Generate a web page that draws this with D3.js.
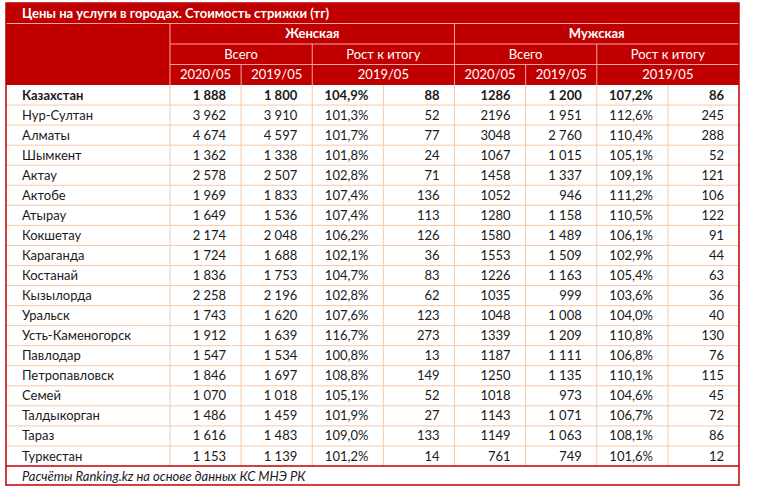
<!DOCTYPE html>
<html><head><meta charset="utf-8">
<script src="https://cdn.jsdelivr.net/npm/d3@7"></script>
<style>
html,body{margin:0;padding:0;background:#fff;}
svg{display:block;font-family:Lato,"Open Sans",sans-serif;}
</style></head>
<body>
<svg id="c" width="759" height="495"></svg>
<script>
const title = "Цены на услуги в городах. Стоимость стрижки (тг)";
const footnote = "Расчёты Ranking.kz на основе данных КС МНЭ РК";
const groups = ["Женская", "Мужская"];
const subGroups = ["Всего", "Рост к итогу"];
const periodLabels = ["2020/05", "2019/05"];
const cities = ["Казахстан","Нур-Султан","Алматы","Шымкент","Актау","Актобе","Атырау","Кокшетау","Караганда","Костанай","Кызылорда","Уральск","Усть-Каменогорск","Павлодар","Петропавловск","Семей","Талдыкорган","Тараз","Туркестан"];
const womenNow   = [1888,3962,4674,1362,2578,1969,1649,2174,1724,1836,2258,1743,1912,1547,1846,1070,1486,1616,1153];
const womenPrev  = [1800,3910,4597,1338,2507,1833,1536,2048,1688,1753,2196,1620,1639,1534,1697,1018,1459,1483,1139];
const womenPct   = [104.9,101.3,101.7,101.8,102.8,107.4,107.4,106.2,102.1,104.7,102.8,107.6,116.7,100.8,108.8,105.1,101.9,109.0,101.2];
const womenDiff  = [88,52,77,24,71,136,113,126,36,83,62,123,273,13,149,52,27,133,14];
const menNow     = [1286,2196,3048,1067,1458,1052,1280,1580,1553,1226,1035,1048,1339,1187,1250,1018,1143,1149,761];
const menPrev    = [1200,1951,2760,1015,1337,946,1158,1489,1509,1163,999,1008,1209,1111,1135,973,1071,1063,749];
const menPct     = [107.2,112.6,110.4,105.1,109.1,111.2,110.5,106.1,102.9,105.4,103.6,104.0,110.8,106.8,110.1,104.6,106.7,108.1,101.6];
const menDiff    = [86,245,288,52,121,106,122,91,44,63,36,40,130,76,115,45,72,86,12];

const loc = d3.formatLocale({decimal: ",", thousands: "\u00a0", grouping: [3], currency: ["", ""]});
const fThou = loc.format(",d");
const fPlain = d3.format("d");
const fPct = v => loc.format(".1f")(v) + "%";

const columns = [
  {key:"wn", vals: womenNow,  fmt: fThou},
  {key:"wp", vals: womenPrev, fmt: fThou},
  {key:"wr", vals: womenPct,  fmt: fPct},
  {key:"wd", vals: womenDiff, fmt: fPlain},
  {key:"mn", vals: menNow,    fmt: fPlain},
  {key:"mp", vals: menPrev,   fmt: fThou},
  {key:"mr", vals: menPct,    fmt: fPct},
  {key:"md", vals: menDiff,   fmt: fPlain}
];

const RED = "#c00000", HDRLINE = "#f3a3a3", GRID = "#f8c8a8", TXT = "#1a1a1a";
const L = 6, R = 739, firstColR = 170;
const svg = d3.select("#c");

const x = d3.scaleBand().domain(columns.map(c => c.key)).range([firstColR, R]);
const y = d3.scaleBand().domain(cities).range([85, 466]);
const hdr = d3.scaleBand().domain(["title","g","s","p"]).range([3, 85]);
const cw = x.bandwidth();

svg.append("rect").attr("x", L).attr("y", 3).attr("width", R - L).attr("height", 82).attr("fill", RED);

const hl = svg.append("g").attr("stroke", HDRLINE).attr("stroke-width", 1);
const yG = hdr("g"), yS = hdr("s"), yP = hdr("p"), hb = hdr.bandwidth();
hl.append("line").attr("x1", L).attr("x2", R).attr("y1", yG).attr("y2", yG);
hl.append("line").attr("x1", firstColR).attr("x2", R).attr("y1", yS).attr("y2", yS);
hl.append("line").attr("x1", firstColR).attr("x2", R).attr("y1", yP).attr("y2", yP);
hl.append("line").attr("x1", firstColR).attr("x2", firstColR).attr("y1", yG).attr("y2", 85);
hl.append("line").attr("x1", x("mn")).attr("x2", x("mn")).attr("y1", yG).attr("y2", 85);
["wr","mr"].forEach(k => hl.append("line").attr("x1", x(k)).attr("x2", x(k)).attr("y1", yS).attr("y2", 85));
["wp","mp"].forEach(k => hl.append("line").attr("x1", x(k)).attr("x2", x(k)).attr("y1", yP).attr("y2", 85));

const ht = svg.append("g").attr("fill", "#fff").attr("font-size", 13);
ht.append("text").attr("x", 22).attr("y", yG - hb/2 + 0.5).attr("dy", "0.35em")
  .attr("font-weight", 700).text(title);
groups.forEach((g, i) => {
  const x0 = x(columns[i*4].key), x1 = x(columns[i*4+3].key) + cw;
  ht.append("text").attr("x", (x0 + x1)/2).attr("y", yG + hb/2).attr("dy", "0.35em")
    .attr("text-anchor", "middle").attr("font-weight", 700).text(g);
  subGroups.forEach((s, j) => {
    const sx0 = x(columns[i*4 + j*2].key), sx1 = sx0 + 2*cw;
    ht.append("text").attr("x", (sx0 + sx1)/2).attr("y", yS + hb/2).attr("dy", "0.35em")
      .attr("text-anchor", "middle").text(s);
  });
  periodLabels.forEach((p, j) => {
    const px = x(columns[i*4 + j].key) + cw/2;
    ht.append("text").attr("x", px).attr("y", yP + hb/2).attr("dy", "0.35em")
      .attr("text-anchor", "middle").text(p);
  });
  const rx0 = x(columns[i*4 + 2].key);
  ht.append("text").attr("x", rx0 + cw).attr("y", yP + hb/2).attr("dy", "0.35em")
    .attr("text-anchor", "middle").text(periodLabels[1]);
});

const grid = svg.append("g").attr("stroke", GRID).attr("stroke-width", 1);
cities.forEach((c, i) => {
  if (i > 0) grid.append("line").attr("x1", L).attr("x2", R).attr("y1", y(c)).attr("y2", y(c));
});
[firstColR].concat(columns.slice(1).map(c => x(c.key))).forEach(xx => {
  grid.append("line").attr("x1", xx).attr("x2", xx).attr("y1", 85).attr("y2", 466);
});

const dt = svg.append("g").attr("fill", TXT).attr("font-size", 13);
cities.forEach((c, i) => {
  const row = dt.append("g").attr("font-weight", i === 0 ? 700 : 400);
  const yy = y(c) + y.bandwidth()/2;
  row.append("text").attr("x", 22).attr("y", yy).attr("dy", "0.35em").text(c);
  columns.forEach(col => {
    row.append("text").attr("x", x(col.key) + cw - 15).attr("y", yy).attr("dy", "0.35em")
      .attr("text-anchor", "end").text(col.fmt(col.vals[i]));
  });
});

svg.append("text").attr("x", 22).attr("y", 476).attr("dy", "0.35em").attr("font-size", 13)
  .attr("font-style", "italic").attr("fill", TXT).text(footnote);

const ob = svg.append("g").attr("stroke", RED).attr("stroke-width", 1.5).attr("fill", "none");
ob.append("rect").attr("x", L).attr("y", 3).attr("width", R - L).attr("height", 482);
ob.append("line").attr("x1", L).attr("x2", R).attr("y1", 466).attr("y2", 466);
</script>
</body></html>
